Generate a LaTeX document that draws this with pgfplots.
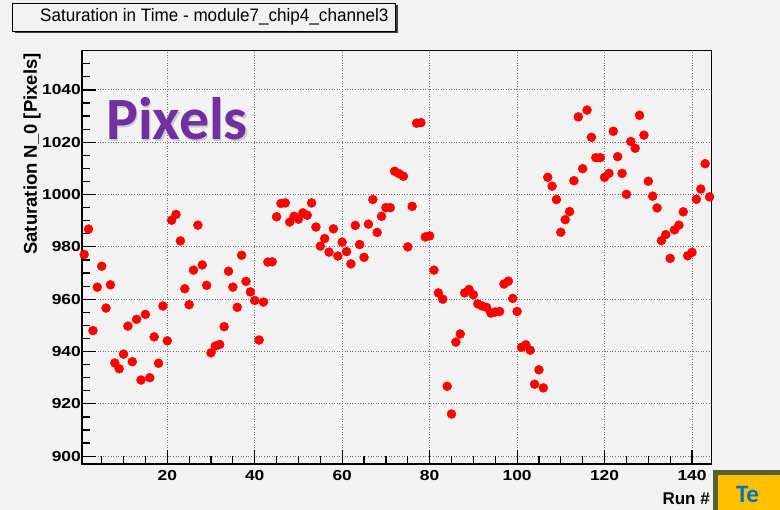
\documentclass[border=0pt]{standalone}
\usepackage{fontspec}
\setmainfont{Liberation Sans}
\newfontfamily\tickfont[FakeStretch=1.2]{Liberation Sans}
\newfontfamily\titfont[FakeStretch=0.95]{Liberation Sans}
\newfontfamily\calibri{Carlito}
\usepackage{pgfplots}
\pgfplotsset{compat=1.18}
\definecolor{bgc}{RGB}{242,242,242}
\definecolor{gridc}{RGB}{115,115,115}
\definecolor{purp}{RGB}{112,48,160}
\definecolor{oliveb}{RGB}{84,98,42}
\definecolor{yel}{RGB}{255,192,0}
\definecolor{blu}{RGB}{0,112,192}
\pgfplotstableread{
run val
1 977.1
2 986.8
3 948.0
4 964.6
5 972.6
6 956.6
7 965.5
8 935.6
9 933.4
10 939.0
11 949.7
12 936.1
13 952.3
14 929.1
15 954.2
16 930.0
17 945.6
18 935.5
19 957.4
20 944.1
21 990.2
22 992.4
23 982.3
24 964.0
25 957.9
26 971.1
27 988.3
28 973.1
29 965.3
30 939.5
31 942.1
32 942.7
33 949.5
34 970.7
35 964.6
36 956.9
37 976.8
38 966.8
39 962.8
40 959.5
41 944.4
42 958.9
43 974.2
44 974.3
45 991.5
46 996.6
47 996.8
48 989.5
49 991.7
50 990.6
51 993.0
52 992.1
53 996.8
54 987.6
55 980.3
56 983.2
57 978.0
58 986.9
59 976.5
60 981.8
61 978.2
62 973.5
63 988.2
64 980.9
65 976.0
66 988.7
67 998.1
68 985.5
69 991.7
70 995.0
71 995.0
72 1008.9
73 1008.0
74 1007.0
75 980.0
76 995.5
77 1027.3
78 1027.5
79 983.8
80 984.2
81 971.1
82 962.4
83 960.0
84 926.7
85 916.1
86 943.6
87 946.7
88 962.4
89 963.7
90 961.7
91 958.2
92 957.4
93 956.9
94 954.7
95 955.1
96 955.3
97 965.8
98 966.9
99 960.3
100 955.3
101 941.6
102 942.6
103 940.5
104 927.5
105 933.0
106 926.1
107 1006.6
108 1003.2
109 998.1
110 985.6
111 990.4
112 993.5
113 1005.3
114 1029.7
115 1009.9
116 1032.3
117 1021.9
118 1014.1
119 1014.1
120 1006.6
121 1008.1
122 1024.2
123 1014.5
124 1008.1
125 1000.1
126 1020.3
127 1017.7
128 1030.3
129 1022.7
130 1005.1
131 999.4
132 994.9
133 982.4
134 984.7
135 975.6
136 986.5
137 988.3
138 993.4
139 976.6
140 977.9
141 998.2
142 1002.1
143 1011.8
144 999.1
}\satdata
\begin{document}
\begin{tikzpicture}[x=1pt,y=1pt]
\path[use as bounding box] (0,0) rectangle (780,510);
\clip (0,0) rectangle (780,510);
\fill[bgc] (0,0) rectangle (780,510);
% title box
\fill[black!75] (14.5,476.5) rectangle (397.5,505);
\filldraw[fill=bgc, draw=black, line width=0.8pt] (12,479) rectangle (395,507);
\node[anchor=base west, inner sep=0, font=\titfont\fontsize{18}{20}\selectfont] at (40,488.5) {Saturation in Time - module7\_chip4\_channel3};
\begin{axis}[
  at={(82pt,46pt)}, anchor=south west,
  scale only axis, width=629.7pt, height=413.3pt,
  xmin=0.5, xmax=144.5, ymin=897, ymax=1055,
  xtick={20,40,...,140}, ytick={900,920,...,1040},
  minor xtick={5,10,...,145}, minor ytick={900,905,...,1055},
  tick align=inside, xtick pos=bottom, ytick pos=left,
  major tick length=14pt, minor tick length=8pt,
  every tick/.style={black, line width=1.2pt},
  grid=major,
  major grid style={gridc, line width=1pt, dash pattern=on 1pt off 1.6pt},
  axis background/.style={fill=bgc},
  axis line style={black, line width=1.5pt},
  ticklabel style={font=\tickfont\bfseries\fontsize{14.5}{15}\selectfont},
  yticklabel style={inner sep=1pt},
  xticklabel style={yshift=-3pt},
  /pgf/number format/assume math mode=true,
  /pgf/number format/1000 sep={},
  clip=false,
]
\addplot[only marks, mark=*, mark size=4.5pt, mark options={fill=red, draw=red}] table[x=run, y=val] {\satdata};
\end{axis}
% y label
\node[rotate=90, anchor=east, inner sep=0, font=\bfseries\fontsize{18.5}{20}\selectfont] at (32,457) {Saturation N\_0 [Pixels]};
% x label
\node[anchor=base east, inner sep=0, font=\bfseries\fontsize{17}{20}\selectfont] at (710,5) {Run \#};
% Pixels annotation
\node[anchor=base west, inner sep=0, text=black!30, opacity=0.6, font=\calibri\bfseries\fontsize{60}{60}\selectfont] at (107.5,368.5) {Pixels};
\node[anchor=base west, inner sep=0, text=purp, font=\calibri\bfseries\fontsize{60}{60}\selectfont] at (106,370) {Pixels};
% corner box
\fill[oliveb] (713,0) rectangle (780,40);
\fill[yel] (718,0) rectangle (780,35);
\node[anchor=base west, inner sep=0, text=blu, font=\calibri\bfseries\fontsize{25}{25}\selectfont] at (736,7) {Te};
\end{tikzpicture}
\end{document}
